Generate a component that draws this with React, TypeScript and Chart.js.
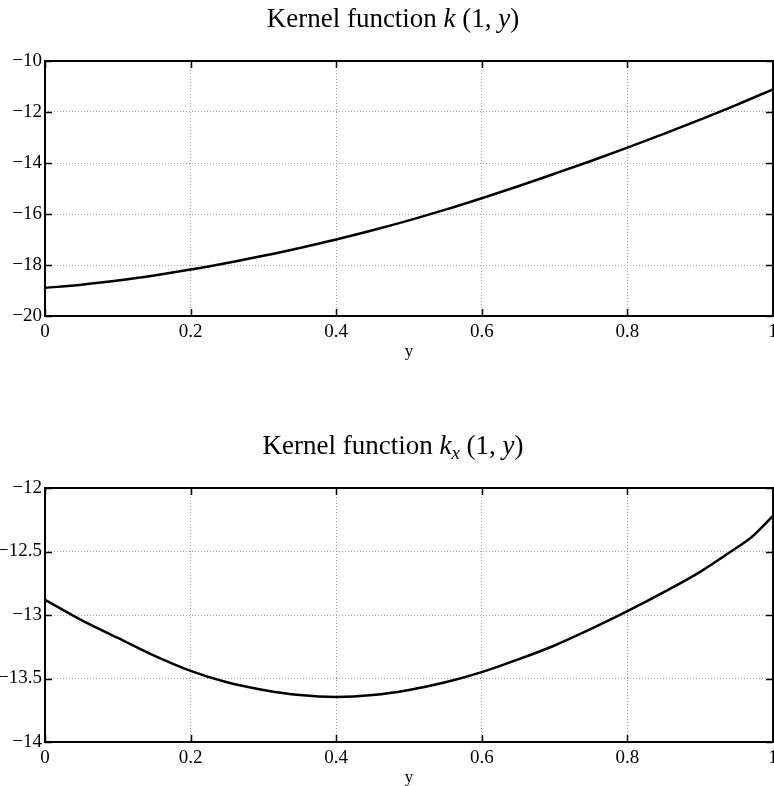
import React, { useEffect, useRef } from "react";
import { Chart, registerables } from "chart.js";

Chart.register(...registerables);

// ---- data ----
const kY = [0, 0.05, 0.1, 0.15, 0.2, 0.25, 0.3, 0.35, 0.4, 0.45, 0.5, 0.55, 0.6, 0.65, 0.7, 0.75, 0.8, 0.85, 0.9, 0.95, 1];
const kValues = [-18.9, -18.77, -18.61, -18.41, -18.18, -17.92, -17.64, -17.33, -17.0, -16.64, -16.25, -15.83, -15.38, -14.91, -14.42, -13.92, -13.4, -12.86, -12.3, -11.72, -11.11];

const kxY = [0, 0.05, 0.1, 0.15, 0.2, 0.25, 0.3, 0.35, 0.4, 0.45, 0.5, 0.55, 0.6, 0.65, 0.7, 0.75, 0.8, 0.85, 0.9, 0.95, 0.97, 1];
const kxValues = [-12.88, -13.04, -13.18, -13.32, -13.44, -13.53, -13.59, -13.63, -13.645, -13.63, -13.59, -13.53, -13.45, -13.35, -13.24, -13.11, -12.97, -12.82, -12.66, -12.47, -12.39, -12.22];

const xTickLabels = ["0", "0.2", "0.4", "0.6", "0.8", "1"];
const kTickLabels = ["\u221220", "\u221218", "\u221216", "\u221214", "\u221212", "\u221210"];
const kxTickLabels = ["\u221214", "\u221213.5", "\u221213", "\u221212.5", "\u221212"];
const xAxisLabel = "y";

type Part = { text: string; italic?: boolean; sub?: boolean };
const kTitle: Part[] = [
  { text: "Kernel function " },
  { text: "k", italic: true },
  { text: " (1, " },
  { text: "y", italic: true },
  { text: ")" },
];
const kxTitle: Part[] = [
  { text: "Kernel function " },
  { text: "k", italic: true },
  { text: "x", italic: true, sub: true },
  { text: " (1, " },
  { text: "y", italic: true },
  { text: ")" },
];

const FONT = "'Liberation Serif', 'Times New Roman', serif";
const TICK_PX = 19;
const TITLE_PX = 27;

function framePlugin(yLabels: string[], title: Part[]) {
  return {
    id: "matlabFrame",
    afterDraw(chart: any) {
      const { ctx, chartArea: a, scales } = chart;
      const xs = scales.x;
      const ys = scales.y;
      ctx.save();
      // inward tick marks
      ctx.strokeStyle = "#000";
      ctx.lineWidth = 1.5;
      ctx.beginPath();
      const tl = 7;
      xs.ticks.forEach((t: any) => {
        const px = Math.round(xs.getPixelForValue(t.value)) + 0.5;
        ctx.moveTo(px, a.bottom);
        ctx.lineTo(px, a.bottom - tl);
        ctx.moveTo(px, a.top);
        ctx.lineTo(px, a.top + tl);
      });
      ys.ticks.forEach((t: any) => {
        const py = Math.round(ys.getPixelForValue(t.value)) + 0.5;
        ctx.moveTo(a.left, py);
        ctx.lineTo(a.left + tl, py);
        ctx.moveTo(a.right, py);
        ctx.lineTo(a.right - tl, py);
      });
      ctx.stroke();
      // box
      ctx.lineWidth = 2;
      ctx.strokeRect(a.left, a.top, a.right - a.left, a.bottom - a.top);

      // tick labels
      ctx.fillStyle = "#000";
      ctx.font = `${TICK_PX}px ${FONT}`;
      ctx.textAlign = "center";
      ctx.textBaseline = "alphabetic";
      xs.ticks.forEach((t: any, i: number) => {
        const px = xs.getPixelForValue(t.value);
        if (xTickLabels[i] !== undefined) ctx.fillText(xTickLabels[i], px, a.bottom + 21);
      });
      ctx.textAlign = "right";
      ctx.textBaseline = "middle";
      ys.ticks.forEach((t: any, i: number) => {
        const py = ys.getPixelForValue(t.value);
        if (yLabels[i] !== undefined) ctx.fillText(yLabels[i], a.left - 3, py);
      });

      // x axis label
      ctx.font = `17px ${FONT}`;
      ctx.textAlign = "center";
      ctx.textBaseline = "alphabetic";
      ctx.fillText(xAxisLabel, (a.left + a.right) / 2, a.bottom + 40);

      // title
      const fontFor = (p: Part) =>
        `${p.italic ? "italic " : ""}${p.sub ? Math.round(TITLE_PX * 0.7) : TITLE_PX}px ${FONT}`;
      let total = 0;
      title.forEach((p) => {
        ctx.font = fontFor(p);
        total += ctx.measureText(p.text).width;
      });
      let x = (a.left + a.right) / 2 - 16 - total / 2;
      const base = a.top - 34;
      ctx.textAlign = "left";
      title.forEach((p) => {
        ctx.font = fontFor(p);
        ctx.fillText(p.text, x, p.sub ? base + 5 : base);
        x += ctx.measureText(p.text).width;
      });
      ctx.restore();
    },
  };
}

type PanelProps = {
  xs: number[];
  ys: number[];
  yMin: number;
  yMax: number;
  yStep: number;
  yLabels: string[];
  title: Part[];
  padTop: number;
  padBottom: number;
  height: number;
};

function Panel(props: PanelProps) {
  const ref = useRef<HTMLCanvasElement>(null);
  useEffect(() => {
    const { xs, ys, yMin, yMax, yStep, yLabels, title, padTop, padBottom } = props;
    const gridCommon = { color: "#a6a6a6", lineWidth: 1, drawTicks: false };
    const chart = new Chart(ref.current as HTMLCanvasElement, {
      type: "line",
      data: {
        datasets: [
          {
            data: xs.map((x, i) => ({ x, y: ys[i] })),
            borderColor: "#000",
            borderWidth: 2.5,
            pointRadius: 0,
            cubicInterpolationMode: "monotone",
            fill: false,
          },
        ],
      },
      options: {
        responsive: false,
        animation: false,
        devicePixelRatio: 1,
        layout: { padding: { left: 45, right: 1, top: padTop, bottom: padBottom } },
        plugins: { legend: { display: false }, tooltip: { enabled: false }, title: { display: false } },
        scales: {
          x: {
            type: "linear",
            min: 0,
            max: 1,
            ticks: { display: false, stepSize: 0.2 },
            grid: gridCommon,
            border: { display: false, dash: [1, 2] },
          },
          y: {
            type: "linear",
            min: yMin,
            max: yMax,
            ticks: { display: false, stepSize: yStep },
            grid: gridCommon,
            border: { display: false, dash: [1, 2] },
          },
        },
      } as any,
      plugins: [framePlugin(yLabels, title)],
    });
    return () => chart.destroy();
  }, []);
  return (
    <canvas
      ref={ref}
      width={774}
      height={props.height}
      style={{ display: "block", width: 774, height: props.height }}
    />
  );
}

export default function App() {
  return (
    <div
      style={{
        position: "fixed",
        left: 0,
        top: 0,
        width: 774,
        height: 786,
        overflow: "hidden",
        background: "#fff",
      }}
    >
      <Panel xs={kY} ys={kValues} yMin={-20} yMax={-10} yStep={2} yLabels={kTickLabels} title={kTitle} padTop={61} padBottom={77} height={393} />
      <Panel xs={kxY} ys={kxValues} yMin={-14} yMax={-12} yStep={0.5} yLabels={kxTickLabels} title={kxTitle} padTop={95} padBottom={44} height={393} />
    </div>
  );
}
